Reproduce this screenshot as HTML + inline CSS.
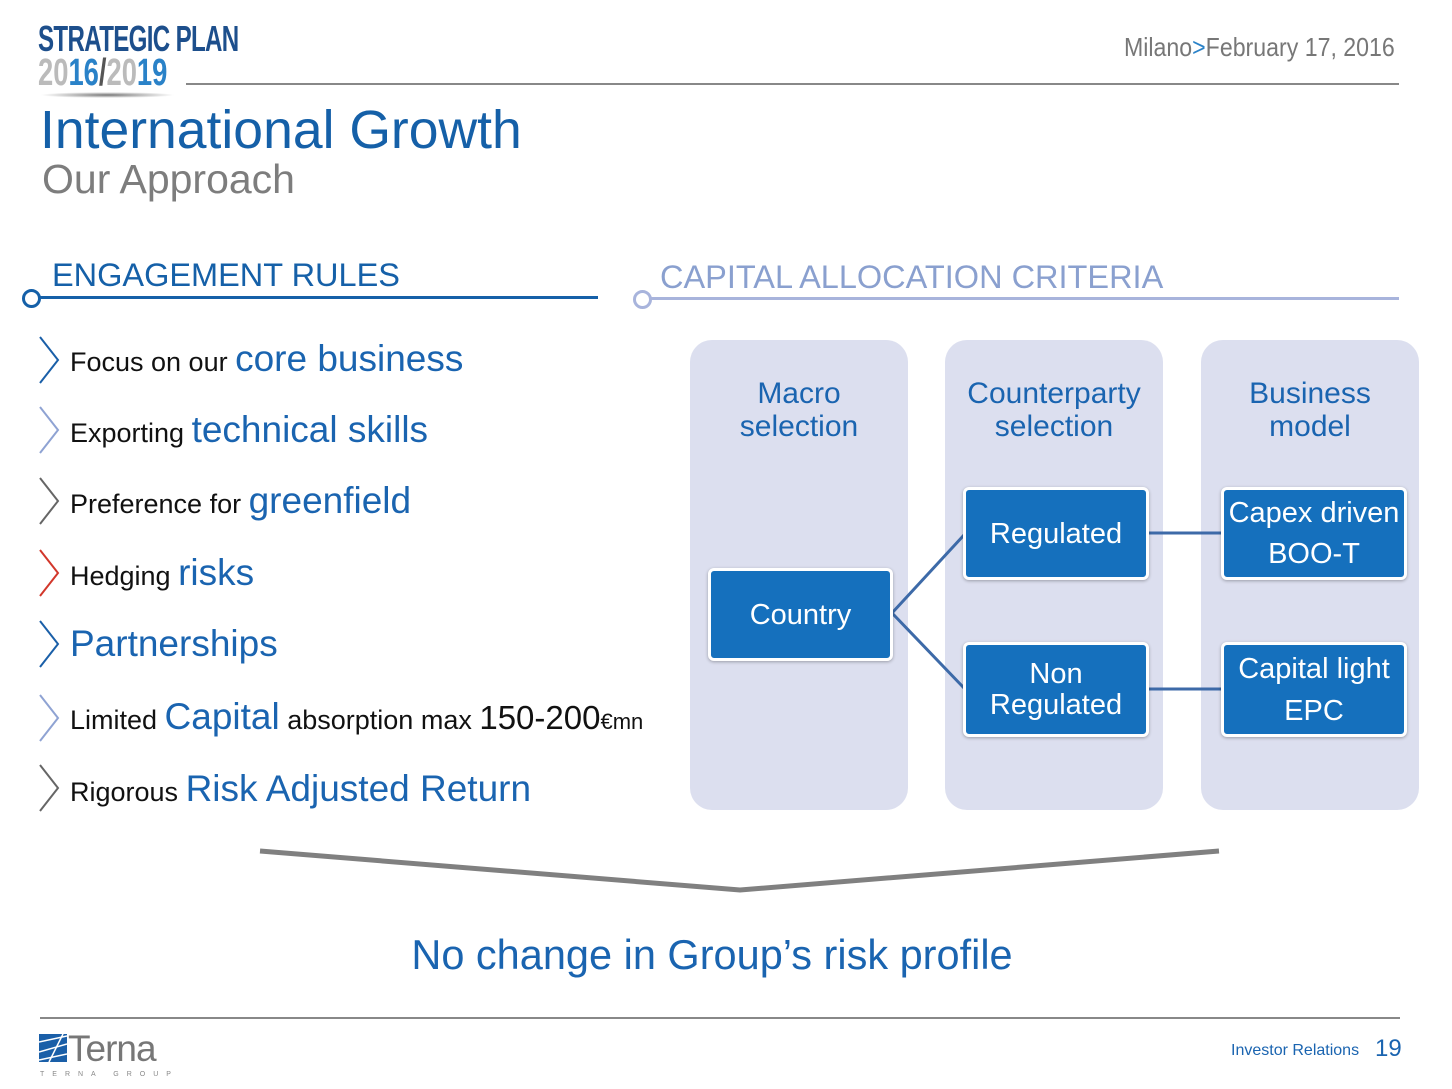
<!DOCTYPE html>
<html><head><meta charset="utf-8"><style>
body{margin:0;width:1452px;height:1089px;background:#fff;position:relative;overflow:hidden;font-family:"Liberation Sans",sans-serif}
.a{position:absolute;white-space:nowrap}
.bt{position:absolute;left:70px;white-space:nowrap;font-size:27px;color:#111;line-height:1}
.bt span{font-size:37px;color:#1a64b0}
.panel{position:absolute;top:340px;width:218px;height:470px;background:#dcdfef;border-radius:22px}
.ph{position:absolute;width:218px;text-align:center;top:37px;font-size:30px;color:#1a64b0;line-height:33px}
.box{position:absolute;background:#1570bd;color:#fff;border:3px solid #fff;border-radius:6px;box-shadow:0 1px 3px rgba(0,0,0,.3);text-align:center;font-size:29px;display:flex;align-items:center;justify-content:center;line-height:34px}
</style></head><body>
<div class="a" style="left:38px;top:18px;font-size:36px;font-weight:bold;color:#1d4f8c;transform:scaleX(.67);transform-origin:left;letter-spacing:-1px">STRATEGIC PLAN</div>
<div class="a" style="left:38px;top:52px;font-size:38px;font-weight:bold;color:#bbb;transform:scaleX(.72);transform-origin:left">20<span style="color:#2a82c8">16</span><span style="color:#555">/</span>20<span style="color:#2a82c8">19</span></div>
<div class="a" style="left:40px;top:92px;width:135px;height:6px;border-radius:50%;background:radial-gradient(#777,#fff 70%)"></div>
<div class="a" style="left:186px;top:83px;width:1213px;height:2px;background:#888"></div>
<div class="a" style="left:1124px;top:32px;font-size:26px;color:#777;transform:scaleX(.89);transform-origin:left">Milano<span style="color:#2a82c8">&gt;</span>February 17, 2016</div>
<div class="a" style="left:40px;top:100px;font-size:53.5px;color:#1560a8">International Growth</div>
<div class="a" style="left:42px;top:156px;font-size:41px;color:#7d7d7d">Our Approach</div>

<div class="a" style="left:52px;top:257px;font-size:32.5px;color:#1560a8">ENGAGEMENT RULES</div>
<div class="a" style="left:38px;top:296px;width:560px;height:3px;background:#1560a8"></div>
<div class="a" style="left:22px;top:289px;width:13px;height:13px;border:3px solid #1560a8;border-radius:50%;background:#fff"></div>
<div class="a" style="left:660px;top:259px;font-size:32.5px;color:#8aa0cf">CAPITAL ALLOCATION CRITERIA</div>
<div class="a" style="left:648px;top:297px;width:751px;height:3px;background:#a8b4dc"></div>
<div class="a" style="left:633px;top:290px;width:13px;height:13px;border:3px solid #a8b4dc;border-radius:50%;background:#fff"></div>

<svg class="a" style="left:0;top:0" width="80" height="820">
<g fill="none" stroke-width="2">
<polyline points="40,337 58,360 40,383" stroke="#1a5fa8"/>
<polyline points="40,407 58,430 40,453" stroke="#8fa3d3"/>
<polyline points="40,478 58,501 40,524" stroke="#666"/>
<polyline points="40,550 58,573 40,596" stroke="#d2372b"/>
<polyline points="40,621 58,644 40,667" stroke="#1a5fa8"/>
<polyline points="40,695 58,718 40,741" stroke="#8fa3d3"/>
<polyline points="40,765 58,788 40,811" stroke="#666"/>
</g></svg>
<div class="bt" style="top:340px">Focus on our <span>core business</span></div>
<div class="bt" style="top:411px">Exporting <span>technical skills</span></div>
<div class="bt" style="top:482px">Preference for <span>greenfield</span></div>
<div class="bt" style="top:554px">Hedging <span>risks</span></div>
<div class="bt" style="top:625px"><span>Partnerships</span></div>
<div class="bt" style="top:698px">Limited <span>Capital</span> absorption max <span style="color:#111;font-size:33px">150-200</span><span style="color:#111;font-size:22px">€mn</span></div>
<div class="bt" style="top:770px">Rigorous <span>Risk Adjusted Return</span></div>

<div class="panel" style="left:690px"><div class="ph">Macro<br>selection</div></div>
<div class="panel" style="left:945px"><div class="ph">Counterparty<br>selection</div></div>
<div class="panel" style="left:1201px"><div class="ph">Business<br>model</div></div>
<svg class="a" style="left:0;top:0" width="1452" height="900">
<g stroke="#3d6aa8" stroke-width="3" fill="none">
<line x1="892" y1="613" x2="964" y2="535"/>
<line x1="892" y1="613" x2="964" y2="688"/>
<line x1="1148" y1="533" x2="1222" y2="533"/>
<line x1="1148" y1="689" x2="1222" y2="689"/>
</g>
<polyline points="260,851 740,890 1219,851" fill="none" stroke="#808080" stroke-width="5"/>
</svg>
<div class="box" style="left:708px;top:568px;width:179px;height:87px">Country</div>
<div class="box" style="left:963px;top:487px;width:180px;height:87px">Regulated</div>
<div class="box" style="left:963px;top:642px;width:180px;height:89px;line-height:31px">Non<br>Regulated</div>
<div class="box" style="left:1221px;top:487px;width:180px;height:87px;line-height:41px">Capex driven<br>BOO-T</div>
<div class="box" style="left:1221px;top:642px;width:180px;height:89px;line-height:42px">Capital light<br>EPC</div>

<div class="a" style="left:0;width:1424px;text-align:center;top:931px;font-size:41.5px;color:#1a64b0">No change in Group’s risk profile</div>
<div class="a" style="left:40px;top:1017px;width:1360px;height:2px;background:#888"></div>
<svg class="a" style="left:39px;top:1034px" width="28" height="28"><rect width="28" height="28" fill="#1a5fa8"/><g stroke="#fff" stroke-width="1.5"><line x1="0" y1="8" x2="28" y2="2"/><line x1="0" y1="18" x2="28" y2="10"/><line x1="0" y1="26" x2="28" y2="20"/><line x1="10" y1="28" x2="24" y2="0"/></g></svg>
<div class="a" style="left:68px;top:1028px;font-size:37px;color:#777;letter-spacing:-1px">Terna</div>
<div class="a" style="left:40px;top:1071px;font-size:7px;color:#888;letter-spacing:8px">TERNA GROUP</div>
<div class="a" style="left:1231px;top:1042px;font-size:16px;color:#1a64b0">Investor Relations</div>
<div class="a" style="left:1375px;top:1035px;font-size:24px;color:#1a64b0">19</div>
</body></html>
